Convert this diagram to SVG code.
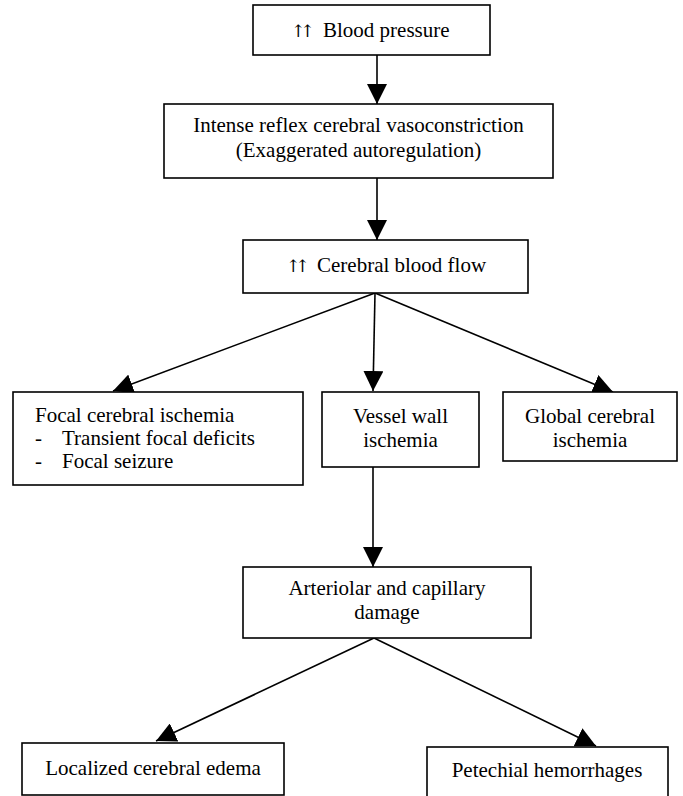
<svg xmlns="http://www.w3.org/2000/svg" width="683" height="796" viewBox="0 0 683 796">
<style>
.box{fill:#fff;stroke:#000;stroke-width:1.6}
.t{font-family:"Liberation Serif","Times New Roman",serif;font-size:21px;fill:#000}
.ar{font-family:"DejaVu Serif","DejaVu Sans",serif;font-size:17px;fill:#000;letter-spacing:-5px}
.c{text-anchor:middle}
.edge{stroke:#000;stroke-width:1.6;fill:none;marker-end:url(#ah)}
</style>
<defs>
<marker id="ah" markerUnits="userSpaceOnUse" markerWidth="20" markerHeight="20" refX="20" refY="10" orient="auto">
<path d="M0,0 L20,10 L0,20 Z" fill="#000"/>
</marker>
</defs>
<rect width="683" height="796" fill="#fff"/>
<g id="connectors">
<line class="edge" x1="377" y1="55" x2="377" y2="104"/>
<line class="edge" x1="377" y1="178" x2="377" y2="240"/>
<line class="edge" x1="375" y1="293" x2="113" y2="391"/>
<line class="edge" x1="375" y1="293" x2="373" y2="391"/>
<line class="edge" x1="375" y1="293" x2="613" y2="392"/>
<line class="edge" x1="373" y1="467" x2="373" y2="567"/>
<line class="edge" x1="374" y1="638" x2="156" y2="741"/>
<line class="edge" x1="374" y1="638" x2="596" y2="746"/>
</g>
<g id="n1">
<rect class="box" x="253" y="5" width="237" height="50"/>
<text class="ar" x="291" y="37">↑↑</text>
<text class="t" x="323" y="37">Blood pressure</text>
</g>
<g id="n2">
<rect class="box" x="164" y="104" width="389" height="74"/>
<text class="t c" x="358.5" y="132">Intense reflex cerebral vasoconstriction</text>
<text class="t c" x="358.5" y="157">(Exaggerated autoregulation)</text>
</g>
<g id="n3">
<rect class="box" x="243" y="240" width="285" height="53"/>
<text class="ar" x="286" y="272">↑↑</text>
<text class="t" x="317" y="272">Cerebral blood flow</text>
</g>
<g id="n4">
<rect class="box" x="13" y="392" width="290" height="93"/>
<text class="t" x="35" y="422">Focal cerebral ischemia</text>
<text class="t" x="35" y="445">-</text>
<text class="t" x="62" y="445">Transient focal deficits</text>
<text class="t" x="35" y="468">-</text>
<text class="t" x="62" y="468">Focal seizure</text>
</g>
<g id="n5">
<rect class="box" x="322" y="392" width="157" height="75"/>
<text class="t c" x="400.5" y="423">Vessel wall</text>
<text class="t c" x="400.5" y="447">ischemia</text>
</g>
<g id="n6">
<rect class="box" x="503" y="392" width="174" height="69"/>
<text class="t c" x="590" y="423">Global cerebral</text>
<text class="t c" x="590" y="447">ischemia</text>
</g>
<g id="n7">
<rect class="box" x="243" y="567" width="288" height="71"/>
<text class="t c" x="387" y="595">Arteriolar and capillary</text>
<text class="t c" x="387" y="619">damage</text>
</g>
<g id="n8">
<rect class="box" x="22" y="743" width="262" height="52"/>
<text class="t c" x="153" y="775">Localized cerebral edema</text>
</g>
<g id="n9">
<rect class="box" x="427" y="747" width="241" height="52"/>
<text class="t c" x="547" y="777">Petechial hemorrhages</text>
</g>
</svg>
